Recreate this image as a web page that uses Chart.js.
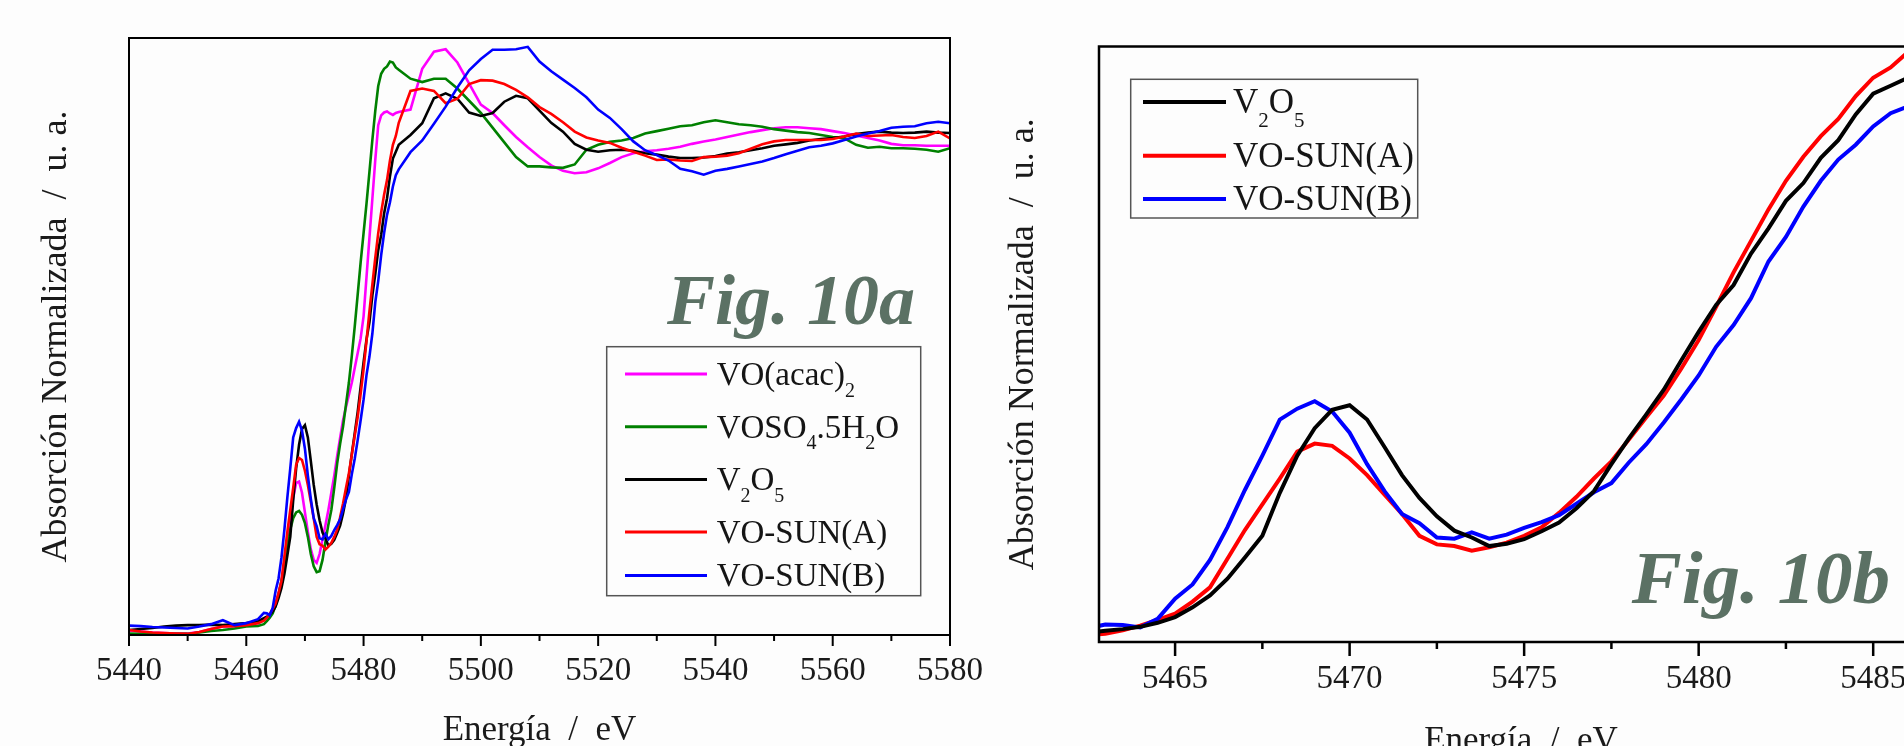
<!DOCTYPE html>
<html lang="es">
<head>
<meta charset="utf-8">
<title>XANES borde K del vanadio</title>
<script src="https://cdn.jsdelivr.net/npm/chart.js@4.4.1/dist/chart.umd.min.js"></script>
<style>
  html, body { margin: 0; padding: 0; background: #fdfdfd; overflow: hidden; width: 1904px; height: 746px; }
  .panel { position: absolute; top: 0; width: 1000px; height: 770px; }
  #panelA { left: 0; }
  #panelB { left: 960px; }
</style>
</head>
<body>
<div class="panel" id="panelA"><canvas id="chartA" width="1000" height="770"></canvas></div>
<div class="panel" id="panelB"><canvas id="chartB" width="1000" height="770"></canvas></div>
<script>
const SERIF = '"Liberation Serif", "Times New Roman", serif';

// energía del fotón (eV)
const energia = [
  5440, 5442, 5444, 5446, 5448, 5450, 5452, 5454, 5456, 5458, 5460, 5462,
  5463, 5463.5, 5464, 5464.5, 5465, 5465.5, 5466, 5466.5, 5467, 5467.5, 5468, 5468.5,
  5469, 5469.5, 5470, 5470.5, 5471, 5471.5, 5472, 5472.5, 5473, 5473.5, 5474, 5474.5,
  5475, 5475.5, 5476, 5476.5, 5477, 5477.5, 5478, 5478.5, 5479, 5479.5, 5480, 5480.5,
  5481, 5481.5, 5482, 5482.5, 5483, 5483.5, 5484, 5484.5, 5485, 5485.5, 5486,
  5488, 5490, 5492, 5494, 5496, 5498, 5500, 5502, 5504, 5506, 5508, 5510,
  5512, 5514, 5516, 5518, 5520, 5522, 5524, 5526, 5528, 5530, 5532, 5534,
  5536, 5538, 5540, 5542, 5544, 5546, 5548, 5550, 5552, 5554, 5556, 5558,
  5560, 5562, 5564, 5566, 5568, 5570, 5572, 5574, 5576, 5578, 5580
];

// absorción normalizada de cada muestra
const muAcac = [
  -0.001, -0.003, -0.005, -0.006, -0.007, -0.007, -0.004, 0.002, 0.007, 0.008, 0.010, 0.014,
  0.020, 0.025, 0.032, 0.042, 0.055, 0.075, 0.100, 0.140, 0.185, 0.230, 0.270, 0.300,
  0.303, 0.280, 0.240, 0.200, 0.165, 0.143, 0.137, 0.155, 0.185, 0.214, 0.245, 0.280,
  0.315, 0.355, 0.392, 0.428, 0.455, 0.480, 0.505, 0.535, 0.565, 0.595, 0.640, 0.720,
  0.800, 0.880, 0.960, 1.030, 1.050, 1.056, 1.058, 1.054, 1.051, 1.055, 1.057,
  1.062, 1.145, 1.180, 1.185, 1.158, 1.115, 1.072, 1.055, 1.030, 1.006, 0.985, 0.965,
  0.948, 0.937, 0.932, 0.934, 0.942, 0.953, 0.965, 0.973, 0.977, 0.979, 0.982, 0.986,
  0.992, 0.997, 1.001, 1.006, 1.011, 1.016, 1.020, 1.024, 1.026, 1.026, 1.024, 1.022,
  1.018, 1.014, 1.009, 1.004, 0.999, 0.992, 0.989, 0.989, 0.988, 0.988, 0.988
];
const muVoso4 = [
  -0.007, -0.008, -0.009, -0.009, -0.008, -0.008, -0.005, -0.002, 0.000, 0.003, 0.007, 0.008,
  0.012, 0.018, 0.025, 0.034, 0.050, 0.072, 0.100, 0.129, 0.170, 0.205, 0.228, 0.240,
  0.243, 0.235, 0.218, 0.190, 0.155, 0.130, 0.118, 0.120, 0.143, 0.180, 0.215, 0.245,
  0.290, 0.340, 0.380, 0.415, 0.460, 0.505, 0.560, 0.620, 0.685, 0.750, 0.810, 0.870,
  0.935, 1.000, 1.060, 1.110, 1.135, 1.145, 1.150, 1.160, 1.158, 1.148, 1.143,
  1.125, 1.118, 1.125, 1.125, 1.105, 1.080, 1.055, 1.025, 0.995, 0.965, 0.946, 0.946,
  0.944, 0.943, 0.950, 0.980, 0.990, 0.996, 0.999, 1.004, 1.013, 1.018, 1.023, 1.028,
  1.030, 1.036, 1.040, 1.036, 1.032, 1.030, 1.027, 1.022, 1.019, 1.016, 1.014, 1.010,
  1.006, 1.003, 0.990, 0.984, 0.986, 0.983, 0.983, 0.982, 0.980, 0.976, 0.983
];
const muV2O5 = [
  0.000, 0.002, 0.004, 0.007, 0.009, 0.010, 0.010, 0.011, 0.010, 0.012, 0.014, 0.018,
  0.024, 0.027, 0.031, 0.038, 0.048, 0.065, 0.086, 0.115, 0.152, 0.190, 0.265, 0.330,
  0.378, 0.410, 0.418, 0.393, 0.345, 0.296, 0.256, 0.224, 0.199, 0.187, 0.172, 0.176,
  0.184, 0.198, 0.213, 0.238, 0.268, 0.315, 0.360, 0.402, 0.445, 0.496, 0.546, 0.593,
  0.628, 0.683, 0.727, 0.775, 0.806, 0.850, 0.881, 0.926, 0.962, 0.976, 0.990,
  1.010, 1.034, 1.085, 1.095, 1.084, 1.056, 1.049, 1.055, 1.078, 1.090, 1.085, 1.060,
  1.035, 1.017, 0.992, 0.980, 0.976, 0.979, 0.980, 0.978, 0.973, 0.970, 0.966, 0.963,
  0.963, 0.964, 0.967, 0.972, 0.975, 0.979, 0.983, 0.988, 0.991, 0.994, 0.999, 1.002,
  1.004, 1.007, 1.012, 1.015, 1.017, 1.015, 1.014, 1.015, 1.017, 1.015, 1.014
];
const muSunA = [
  0.000, -0.003, -0.005, -0.006, -0.007, -0.008, -0.004, 0.002, 0.007, 0.008, 0.010, 0.014,
  0.019, 0.025, 0.033, 0.043, 0.054, 0.075, 0.100, 0.150, 0.200, 0.245, 0.290, 0.337,
  0.351, 0.347, 0.325, 0.296, 0.262, 0.228, 0.190, 0.175, 0.172, 0.164, 0.170, 0.178,
  0.190, 0.205, 0.230, 0.258, 0.290, 0.320, 0.358, 0.397, 0.435, 0.482, 0.532, 0.590,
  0.650, 0.705, 0.760, 0.810, 0.852, 0.888, 0.918, 0.958, 0.990, 1.008, 1.035,
  1.100, 1.105, 1.100, 1.075, 1.084, 1.114, 1.122, 1.121, 1.114, 1.102, 1.087, 1.067,
  1.053, 1.036, 1.017, 1.005, 0.999, 0.994, 0.984, 0.976, 0.968, 0.959, 0.960, 0.958,
  0.957, 0.965, 0.966, 0.968, 0.973, 0.982, 0.991, 0.997, 1.000, 1.000, 1.000, 1.000,
  1.002, 1.007, 1.013, 1.008, 1.009, 1.010, 1.006, 1.004, 1.008, 1.017, 1.003
];
const muSunB = [
  0.009, 0.008, 0.006, 0.005, 0.004, 0.003, 0.007, 0.012, 0.020, 0.010, 0.014, 0.022,
  0.035, 0.034, 0.030, 0.045, 0.080, 0.105, 0.148, 0.205, 0.270, 0.330, 0.393, 0.412,
  0.425, 0.407, 0.370, 0.315, 0.268, 0.228, 0.212, 0.187, 0.185, 0.196, 0.185, 0.192,
  0.204, 0.214, 0.226, 0.246, 0.266, 0.282, 0.318, 0.350, 0.388, 0.428, 0.470, 0.520,
  0.558, 0.605, 0.669, 0.712, 0.765, 0.810, 0.847, 0.873, 0.905, 0.928, 0.940,
  0.975, 0.999, 1.033, 1.068, 1.107, 1.142, 1.165, 1.184, 1.184, 1.185, 1.190, 1.160,
  1.140, 1.123, 1.106, 1.087, 1.062, 1.045, 1.022, 0.997, 0.979, 0.969, 0.958, 0.941,
  0.936, 0.929, 0.937, 0.941, 0.946, 0.951, 0.956, 0.963, 0.971, 0.978, 0.985, 0.988,
  0.993, 1.000, 1.007, 1.013, 1.018, 1.025, 1.027, 1.028, 1.034, 1.037, 1.034
];

const muestras = ['VO(acac)₂', 'VOSO₄.5H₂O', 'V₂O₅', 'VO-SUN(A)', 'VO-SUN(B)'];
const colores = ['#ff00ff', '#008000', '#000000', '#ff0000', '#0000ff'];
const valores = [muAcac, muVoso4, muV2O5, muSunA, muSunB];

const SUB = '₀₁₂₃₄₅₆₇₈₉';

function esMultiplo(v, paso) {
  const q = v / paso;
  return Math.abs(q - Math.round(q)) < 1e-6;
}

// texto con subíndices (₂, ₄, ₅) dibujado en tramos
function textoQuimico(ctx, texto, x, y, size, subSize, drop) {
  let cx = x;
  let tramo = '';
  let esSub = false;
  const volcar = () => {
    if (!tramo) return;
    ctx.font = `${esSub ? subSize : size}px ${SERIF}`;
    ctx.fillText(tramo, cx, esSub ? y + drop : y);
    cx += ctx.measureText(tramo).width;
    tramo = '';
  };
  for (const ch of texto) {
    const k = SUB.indexOf(ch);
    const sub = k >= 0;
    if (sub !== esSub) { volcar(); esSub = sub; }
    tramo += sub ? String(k) : ch;
  }
  volcar();
}

// marco del área y marcas del eje x (mayores y menores)
const marco = {
  id: 'marco',
  afterDatasetsDraw(chart, args, o) {
    const { ctx, chartArea: a } = chart;
    const x = chart.scales.x;
    ctx.save();
    ctx.strokeStyle = '#000';
    ctx.lineWidth = o.width;
    ctx.strokeRect(a.left, a.top, a.right - a.left, a.bottom - a.top);
    ctx.beginPath();
    for (const t of x.ticks) {
      const px = x.getPixelForValue(t.value);
      ctx.moveTo(px, a.bottom);
      ctx.lineTo(px, a.bottom + (esMultiplo(t.value, o.major) ? o.majorLen : o.minorLen));
    }
    ctx.stroke();
    ctx.restore();
  }
};

const leyenda = {
  id: 'leyenda',
  afterDraw(chart, args, o) {
    const ctx = chart.ctx;
    ctx.save();
    ctx.strokeStyle = '#555';
    ctx.lineWidth = 1.5;
    ctx.strokeRect(o.x, o.y, o.w, o.h);
    let y = o.y + o.first;
    for (const ds of chart.data.datasets) {
      ctx.strokeStyle = ds.borderColor;
      ctx.lineWidth = o.lineWidth;
      ctx.beginPath();
      ctx.moveTo(o.x + o.lineFrom, y);
      ctx.lineTo(o.x + o.lineTo, y);
      ctx.stroke();
      ctx.fillStyle = '#151515';
      ctx.textBaseline = 'alphabetic';
      textoQuimico(ctx, ds.label, o.x + o.textX, y + o.base, o.size, o.subSize, o.drop);
      y += o.row + (/[₀-₉]/.test(ds.label) ? o.subExtra : 0);
    }
    ctx.restore();
  }
};

const rotulo = {
  id: 'rotulo',
  afterDraw(chart, args, o) {
    const ctx = chart.ctx;
    ctx.save();
    ctx.font = `italic bold ${o.size}px ${SERIF}`;
    ctx.fillStyle = '#5b7164';
    ctx.textBaseline = 'alphabetic';
    ctx.fillText(o.text, o.x, o.y);
    ctx.restore();
  }
};

function crearGrafico(id, c) {
  return new Chart(document.getElementById(id), {
    type: 'line',
    data: {
      datasets: c.series.map(i => ({
        label: muestras[i],
        data: energia.map((e, k) => ({ x: e, y: valores[i][k] })),
        borderColor: colores[i],
        borderWidth: c.lineWidth,
        pointRadius: 0,
        tension: 0,
        fill: false,
        order: c.orden[i]
      }))
    },
    options: {
      responsive: false,
      animation: false,
      layout: { padding: c.padding },
      plugins: {
        legend: { display: false },
        tooltip: { enabled: false },
        marco: c.marco,
        leyenda: c.leyenda,
        rotulo: c.rotulo
      },
      scales: {
        x: {
          type: 'linear',
          min: c.xMin,
          max: c.xMax,
          afterBuildTicks: s => { s.ticks = s.ticks.filter(t => esMultiplo(t.value, c.paso)); },
          afterFit: s => { s.height = c.xHeight; },
          grid: { display: false, drawTicks: false },
          border: { display: false },
          ticks: {
            stepSize: c.paso,
            includeBounds: false,
            autoSkip: false,
            maxRotation: 0,
            padding: c.tickPad,
            color: '#1a1a1a',
            font: { family: SERIF, size: 33 },
            callback: v => esMultiplo(v, c.pasoEtiqueta) ? String(v) : ''
          },
          title: {
            display: true,
            text: 'Energía  /  eV',
            color: '#1a1a1a',
            font: { family: SERIF, size: 35 },
            padding: { top: 0, bottom: c.xTitlePad }
          }
        },
        y: {
          type: 'linear',
          min: c.yMin,
          max: c.yMax,
          afterFit: s => { s.width = c.yWidth; },
          grid: { display: false, drawTicks: false },
          border: { display: false },
          ticks: { display: false },
          title: {
            display: true,
            text: 'Absorción Normalizada  /  u. a.',
            color: '#1a1a1a',
            font: { family: SERIF, size: 36 },
            padding: { top: c.yTitlePad, bottom: 0 }
          }
        }
      }
    },
    plugins: [marco, leyenda, rotulo]
  });
}

// Fig. 10a: espectro completo de las cinco muestras
crearGrafico('chartA', {
  series: [0, 1, 2, 3, 4],
  orden: [4, 3, 2, 1, 0],
  lineWidth: 2.6,
  padding: { left: 0, top: 38, right: 47.5, bottom: 0 },
  xMin: 5440, xMax: 5580, paso: 10, pasoEtiqueta: 20,
  yMin: -0.0102, yMax: 1.208,
  xHeight: 135, yWidth: 129,
  tickPad: 17, xTitlePad: 18, yTitlePad: 34.5,
  marco: { width: 2, major: 20, majorLen: 11, minorLen: 6 },
  leyenda: {
    x: 606.7, y: 346.7, w: 314, h: 249, first: 27.3,
    lineFrom: 18.3, lineTo: 100.3, lineWidth: 3, textX: 110,
    base: 11, size: 33, subSize: 20, drop: 11.7, row: 43.3, subExtra: 9.4
  },
  rotulo: { text: 'Fig. 10a', x: 667, y: 323.5, size: 72 }
});

// Fig. 10b: ampliación del pre-pico de V2O5 y los sólidos VO-SUN
crearGrafico('chartB', {
  series: [2, 3, 4],
  orden: [4, 3, 0, 2, 1],
  lineWidth: 4,
  padding: { left: 0, top: 46.5, right: 17, bottom: 0 },
  xMin: 5462.82, xMax: 5487, paso: 2.5, pasoEtiqueta: 5,
  yMin: 0.0045, yMax: 1.0445,
  xHeight: 128, yWidth: 139,
  tickPad: 18, xTitlePad: 7.5, yTitlePad: 41.5,
  marco: { width: 2.5, major: 5, majorLen: 14, minorLen: 7 },
  leyenda: {
    x: 170.7, y: 79.3, w: 287, h: 138.7, first: 22.7,
    lineFrom: 12.3, lineTo: 95.3, lineWidth: 4, textX: 102.3,
    base: 11.3, size: 35, subSize: 21, drop: 13.4, row: 43.3, subExtra: 10.4
  },
  rotulo: { text: 'Fig. 10b', x: 671.7, y: 603, size: 75 }
});
</script>
</body>
</html>
